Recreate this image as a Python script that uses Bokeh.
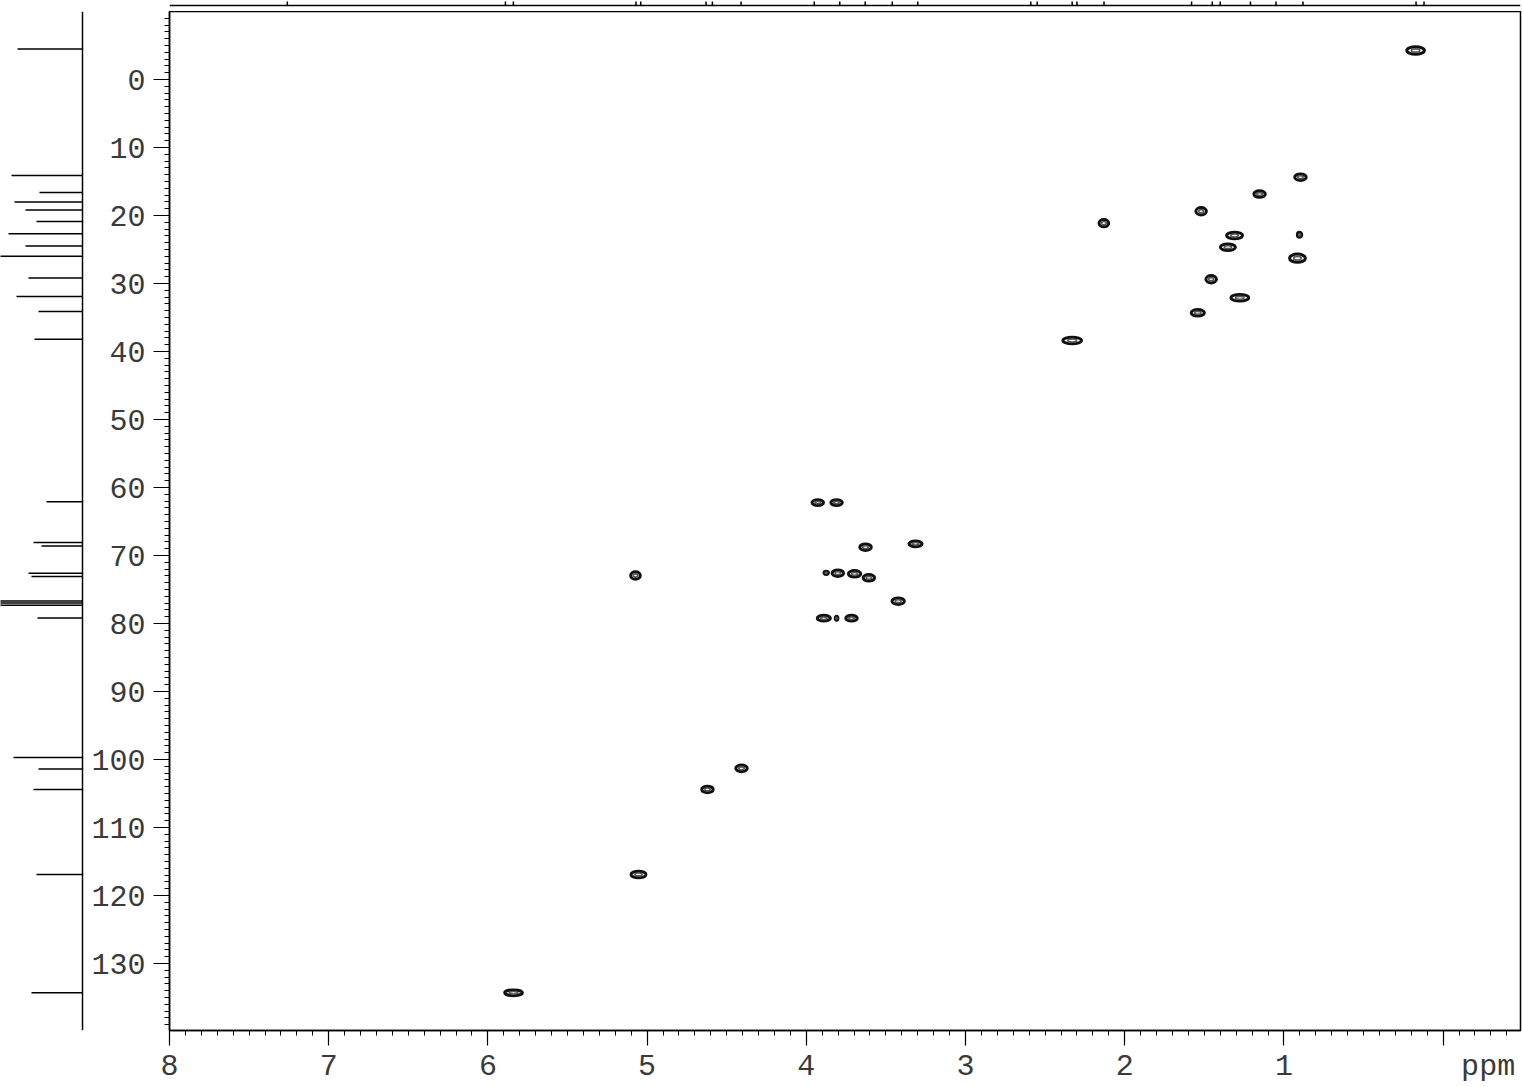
import numpy as np
from bokeh.plotting import figure
from bokeh.layouts import row, column
from bokeh.models import Range1d, FixedTicker, Span, ColumnDataSource
from bokeh.embed import file_html
from bokeh.resources import INLINE

# ---------------- data ----------------
# HSQC cross peaks: 1H shift (ppm), 13C shift (ppm), contour extent in 1H (ppm) and 13C (ppm)
peak_h = [0.173, 0.896, 1.153, 1.520, 2.131, 1.310, 0.902, 1.352, 0.915, 1.457,
          1.277, 1.541, 2.330, 3.928, 3.810, 3.628, 3.314, 3.875, 3.802, 3.697,
          3.607, 3.423, 3.890, 3.810, 3.716, 5.073, 4.407, 4.621, 5.054, 5.839]
peak_c = [-4.26, 14.37, 16.85, 19.37, 21.13, 22.94, 22.84, 24.66, 26.28, 29.37,
          32.10, 34.31, 38.38, 62.21, 62.21, 68.78, 68.28, 72.54, 72.60, 72.69,
          73.28, 76.72, 79.22, 79.22, 79.22, 72.94, 101.3, 104.4, 116.9, 134.3]
peak_wh = [0.126, 0.082, 0.082, 0.075, 0.069, 0.113, 0.031, 0.107, 0.113, 0.075,
           0.126, 0.094, 0.132, 0.082, 0.082, 0.082, 0.094, 0.031, 0.082, 0.088,
           0.082, 0.088, 0.094, 0.019, 0.082, 0.069, 0.082, 0.082, 0.107, 0.126]
peak_wc = [1.32, 1.18, 1.18, 1.32, 1.32, 1.18, 0.88, 1.18, 1.47, 1.32,
           1.18, 1.18, 1.18, 1.03, 1.03, 1.18, 1.03, 0.59, 1.18, 1.18,
           1.18, 1.18, 1.03, 0.74, 1.03, 1.32, 1.18, 1.18, 1.18, 1.03]

# 13C projection (left): shift (ppm) and intensity
c13_ppm = [-4.5, 14.1, 16.6, 18.0, 19.2, 20.9, 22.7, 24.5, 26.0, 29.2, 31.9, 34.1, 38.2,
           62.1, 68.1, 68.6, 72.6, 73.1, 76.7, 77.0, 77.3, 79.2,
           99.7, 101.4, 104.4, 116.9, 134.3]
c13_int = [65, 71, 43, 68, 57, 46, 74, 57, 85, 54, 66, 44, 48,
           36, 49, 41, 54, 51, 85, 85, 85, 45,
           69, 44, 49, 46, 51]

# 1H spectrum (top): shift (ppm) and intensity (clipped)
h1_ppm = [7.26, 5.89, 5.84, 5.07, 5.04, 4.63, 4.59, 4.41, 3.95, 3.79, 3.63, 3.46, 3.30,
          2.59, 2.55, 2.33, 2.30, 2.13, 1.58, 1.45, 1.40, 1.21, 1.05, 0.88, 0.17, 0.12]
h1_int = [20, 20, 20, 20, 20, 20, 20, 20, 20, 20, 20, 20, 20,
          20, 20, 20, 20, 20, 20, 20, 20, 20, 20, 20, 20, 20]

x_ticks = [8, 7, 6, 5, 4, 3, 2, 1, 0]
x_tick_labels = {0: "\u00a0\u00a0\u00a0\u00a0\u00a0ppm"}
y_ticks = [0, 10, 20, 30, 40, 50, 60, 70, 80, 90, 100, 110, 120, 130]

# ---------------- layout ----------------
FONT = "Liberation Mono"
FS = "30px"
TXT = "#3a3a3a"

TOP_H = 11
MAIN_H = 1075
BOTTOM = 56
LEFT_W = 86
MAIN_W = 1436

x_range = Range1d(start=8, end=-0.486)
y_range = Range1d(start=139.85, end=-10.0)

main = figure(width=MAIN_W, height=MAIN_H, x_range=x_range, y_range=y_range,
              toolbar_location=None, output_backend="svg",
              min_border_left=83, min_border_right=2, min_border_top=0,
              min_border_bottom=BOTTOM)
main.grid.visible = False
main.outline_line_color = "black"
main.outline_line_width = 1.5
main.background_fill_color = "white"
main.border_fill_color = "white"

xax = main.xaxis[0]
xax.ticker = FixedTicker(ticks=x_ticks, minor_ticks=[round(v, 1) for v in np.arange(-0.4, 8.01, 0.1)])
xax.major_label_overrides = x_tick_labels
xax.major_tick_out = 15
xax.major_tick_in = 0
xax.minor_tick_out = 5
xax.minor_tick_in = 0
xax.major_label_standoff = 4
xax.major_label_text_font = FONT
xax.major_label_text_font_size = FS
xax.major_label_text_color = TXT
xax.axis_line_width = 1.5
xax.major_tick_line_width = 1.2
xax.minor_tick_line_width = 1

yax = main.yaxis[0]
yax.ticker = FixedTicker(ticks=y_ticks, minor_ticks=list(range(-9, 140)))
yax.major_tick_out = 16
yax.major_tick_in = 0
yax.minor_tick_out = 5
yax.minor_tick_in = 0
yax.major_label_standoff = 8
yax.major_label_text_font = FONT
yax.major_label_text_font_size = FS
yax.major_label_text_color = TXT
yax.axis_line_width = 1.5
yax.major_tick_line_width = 1.2
yax.minor_tick_line_width = 1

src = ColumnDataSource(dict(h=peak_h, c=peak_c,
                            wh=[w * 0.88 for w in peak_wh], wc=[w * 0.82 for w in peak_wc],
                            wh2=[w * 0.42 for w in peak_wh], wc2=[w * 0.36 for w in peak_wc]))
main.ellipse(x="h", y="c", width="wh", height="wc", source=src,
             fill_color=None, line_color="#111111", line_width=3.0)
main.ellipse(x="h", y="c", width="wh2", height="wc2", source=src,
             fill_color=None, line_color="#555555", line_width=1.6)

# top 1H trace
top = figure(width=MAIN_W, height=TOP_H, x_range=x_range, y_range=Range1d(-7, 4),
             toolbar_location=None, output_backend="svg",
             x_axis_location=None, y_axis_location=None,
             min_border_left=83, min_border_right=2, min_border_top=0, min_border_bottom=0)
top.grid.visible = False
top.outline_line_color = None
top.line(x=[8, -0.486], y=[0, 0], line_color="black", line_width=1.5)
top.segment(x0=h1_ppm, y0=[0] * len(h1_ppm), x1=h1_ppm, y1=h1_int, line_color="black", line_width=1.5)

# left 13C projection
left = figure(width=LEFT_W, height=TOP_H + MAIN_H, x_range=Range1d(82, -4), y_range=y_range,
              toolbar_location=None, output_backend="svg", y_axis_location=None,
              min_border_left=0, min_border_right=0, min_border_top=TOP_H,
              min_border_bottom=BOTTOM)
left.grid.visible = False
left.outline_line_color = None
lax = left.xaxis[0]
lax.ticker = FixedTicker(ticks=[0])
lax.major_tick_out = 15
lax.major_tick_in = 0
lax.minor_tick_out = 0
lax.major_label_standoff = 4
lax.major_label_text_font = FONT
lax.major_label_text_font_size = FS
lax.major_label_text_alpha = 0
lax.axis_line_color = None
lax.major_tick_line_color = None
lax.minor_tick_line_color = None
left.add_layout(Span(location=0, dimension="height", line_color="black", line_width=1.5))
left.segment(x0=[0] * len(c13_ppm), y0=c13_ppm, x1=c13_int, y1=c13_ppm,
             line_color="black", line_width=1.5)

p = row(left, column(top, main))

open("out.html", "w").write(file_html(p, INLINE))
